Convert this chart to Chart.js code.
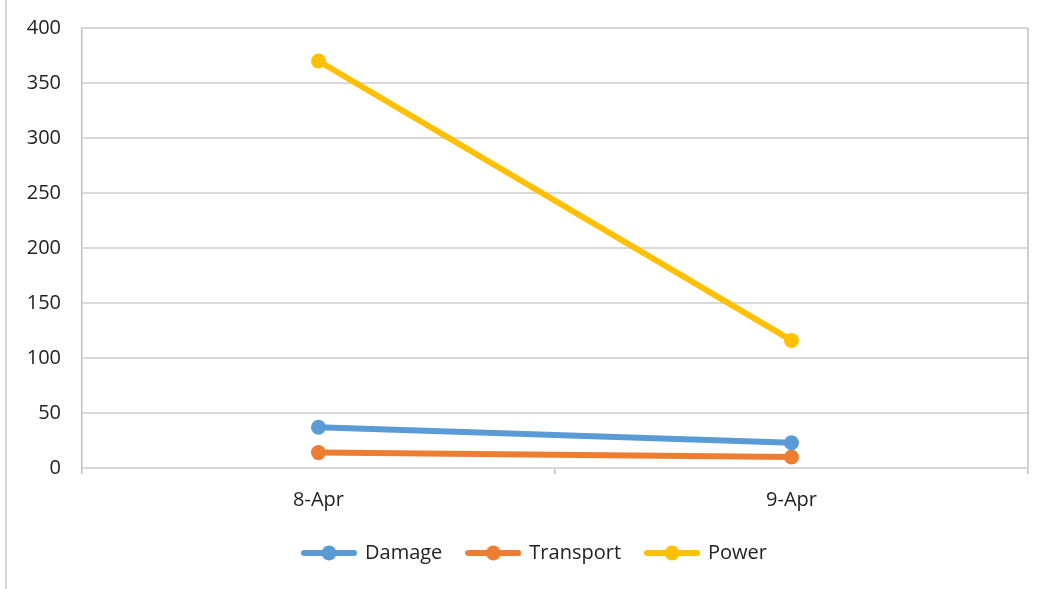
<!DOCTYPE html>
<html>
<head>
<meta charset="utf-8">
<script src="https://cdn.jsdelivr.net/npm/chart.js@4.4.1/dist/chart.umd.min.js"></script>
<style>
    html, body { margin: 0; padding: 0; background: #fff; }
    #wrap { width: 1045px; height: 589px; position: relative; }
</style>
</head>
<body>
<div id="wrap"><canvas id="chart"></canvas></div>
<script>
const categories = ['8-Apr', '9-Apr'];
const damage = [37, 23];
const transport = [14, 10];
const power = [370, 116];
const yTicks = [0, 50, 100, 150, 200, 250, 300, 350, 400];

const colors = { damage: '#5B9BD5', transport: '#ED7D31', power: '#FFC000' };
const font = { family: '"Open Sans", sans-serif', size: 20 };

// little line+dot picture for the legend
function legendMark(color) {
    const c = document.createElement('canvas');
    c.width = 56;
    c.height = 16;
    const g = c.getContext('2d');
    g.strokeStyle = color;
    g.lineWidth = 6;
    g.lineCap = 'round';
    g.beginPath();
    g.moveTo(3, 8);
    g.lineTo(53, 8);
    g.stroke();
    g.fillStyle = color;
    g.beginPath();
    g.arc(28, 8, 7.5, 0, Math.PI * 2);
    g.fill();
    return c;
}

function makeSet(label, data, color) {
    return {
        label: label,
        data: data,
        borderColor: color,
        backgroundColor: color,
        borderWidth: 6,
        pointRadius: 7.5,
        pointHoverRadius: 7.5,
        pointBorderWidth: 0,
        pointStyle: 'circle',
        legendMark: legendMark(color)
    };
}

// outer left border, right edge of the plot area, legend nudge
const frame = {
    id: 'frame',
    afterLayout(chart) {
        // the legend sits a bit right of the canvas centre in the original
        chart.legend.left += 21;
        chart.legend.right += 21;
    },
    beforeDraw(chart) {
        const ctx = chart.ctx;
        ctx.save();
        ctx.strokeStyle = '#d9d9d9';
        ctx.lineWidth = 2;
        ctx.beginPath();
        ctx.moveTo(6, 0);
        ctx.lineTo(6, 589);
        ctx.stroke();
        ctx.restore();
    },
    afterDatasetsDraw(chart) {
        const ctx = chart.ctx;
        const a = chart.chartArea;
        ctx.save();
        ctx.strokeStyle = '#bfbfbf';
        ctx.lineWidth = 1.5;
        ctx.beginPath();
        ctx.moveTo(a.right, a.top);
        ctx.lineTo(a.right, a.bottom);
        ctx.stroke();
        ctx.restore();
    }
};

new Chart(document.getElementById('chart'), {
    type: 'line',
    data: {
        labels: categories,
        datasets: [
            makeSet('Damage', damage, colors.damage),
            makeSet('Transport', transport, colors.transport),
            makeSet('Power', power, colors.power)
        ]
    },
    options: {
        responsive: true,
        maintainAspectRatio: false,
        animation: false,
        layout: { padding: { top: 28, right: 17, bottom: 16, left: 0 } },
        plugins: {
            tooltip: { enabled: false },
            legend: {
                position: 'bottom',
                labels: {
                    font: font,
                    color: '#222',
                    usePointStyle: true,
                    pointStyleWidth: 52,
                    padding: 25,
                    generateLabels(chart) {
                        return chart.data.datasets.map((ds, i) => ({
                            text: ds.label,
                            pointStyle: ds.legendMark,
                            fillStyle: ds.borderColor,
                            strokeStyle: ds.borderColor,
                            lineWidth: 0,
                            fontColor: '#222',
                            datasetIndex: i,
                            hidden: false
                        }));
                    }
                }
            }
        },
        scales: {
            x: {
                offset: true,
                grid: {
                    offset: true,
                    drawOnChartArea: false,
                    color: '#bfbfbf',
                    tickLength: 6,
                    lineWidth: 1.5
                },
                border: { color: '#d9d9d9', width: 2 },
                ticks: { font: font, color: '#222', padding: 14 },
                afterFit(scale) { scale.height = 50; }
            },
            y: {
                min: 0,
                max: 400,
                afterBuildTicks(scale) { scale.ticks = yTicks.map(v => ({ value: v })); },
                grid: { color: '#d9d9d9', lineWidth: 2, tickLength: 0 },
                border: { color: '#bfbfbf', width: 1.5 },
                ticks: { font: font, color: '#222', padding: 21 },
                afterFit(scale) {
                    scale.width = 82;
                    scale.paddingTop = 0;
                    scale.paddingBottom = 0;
                }
            }
        }
    },
    plugins: [frame]
});
</script>
</body>
</html>
